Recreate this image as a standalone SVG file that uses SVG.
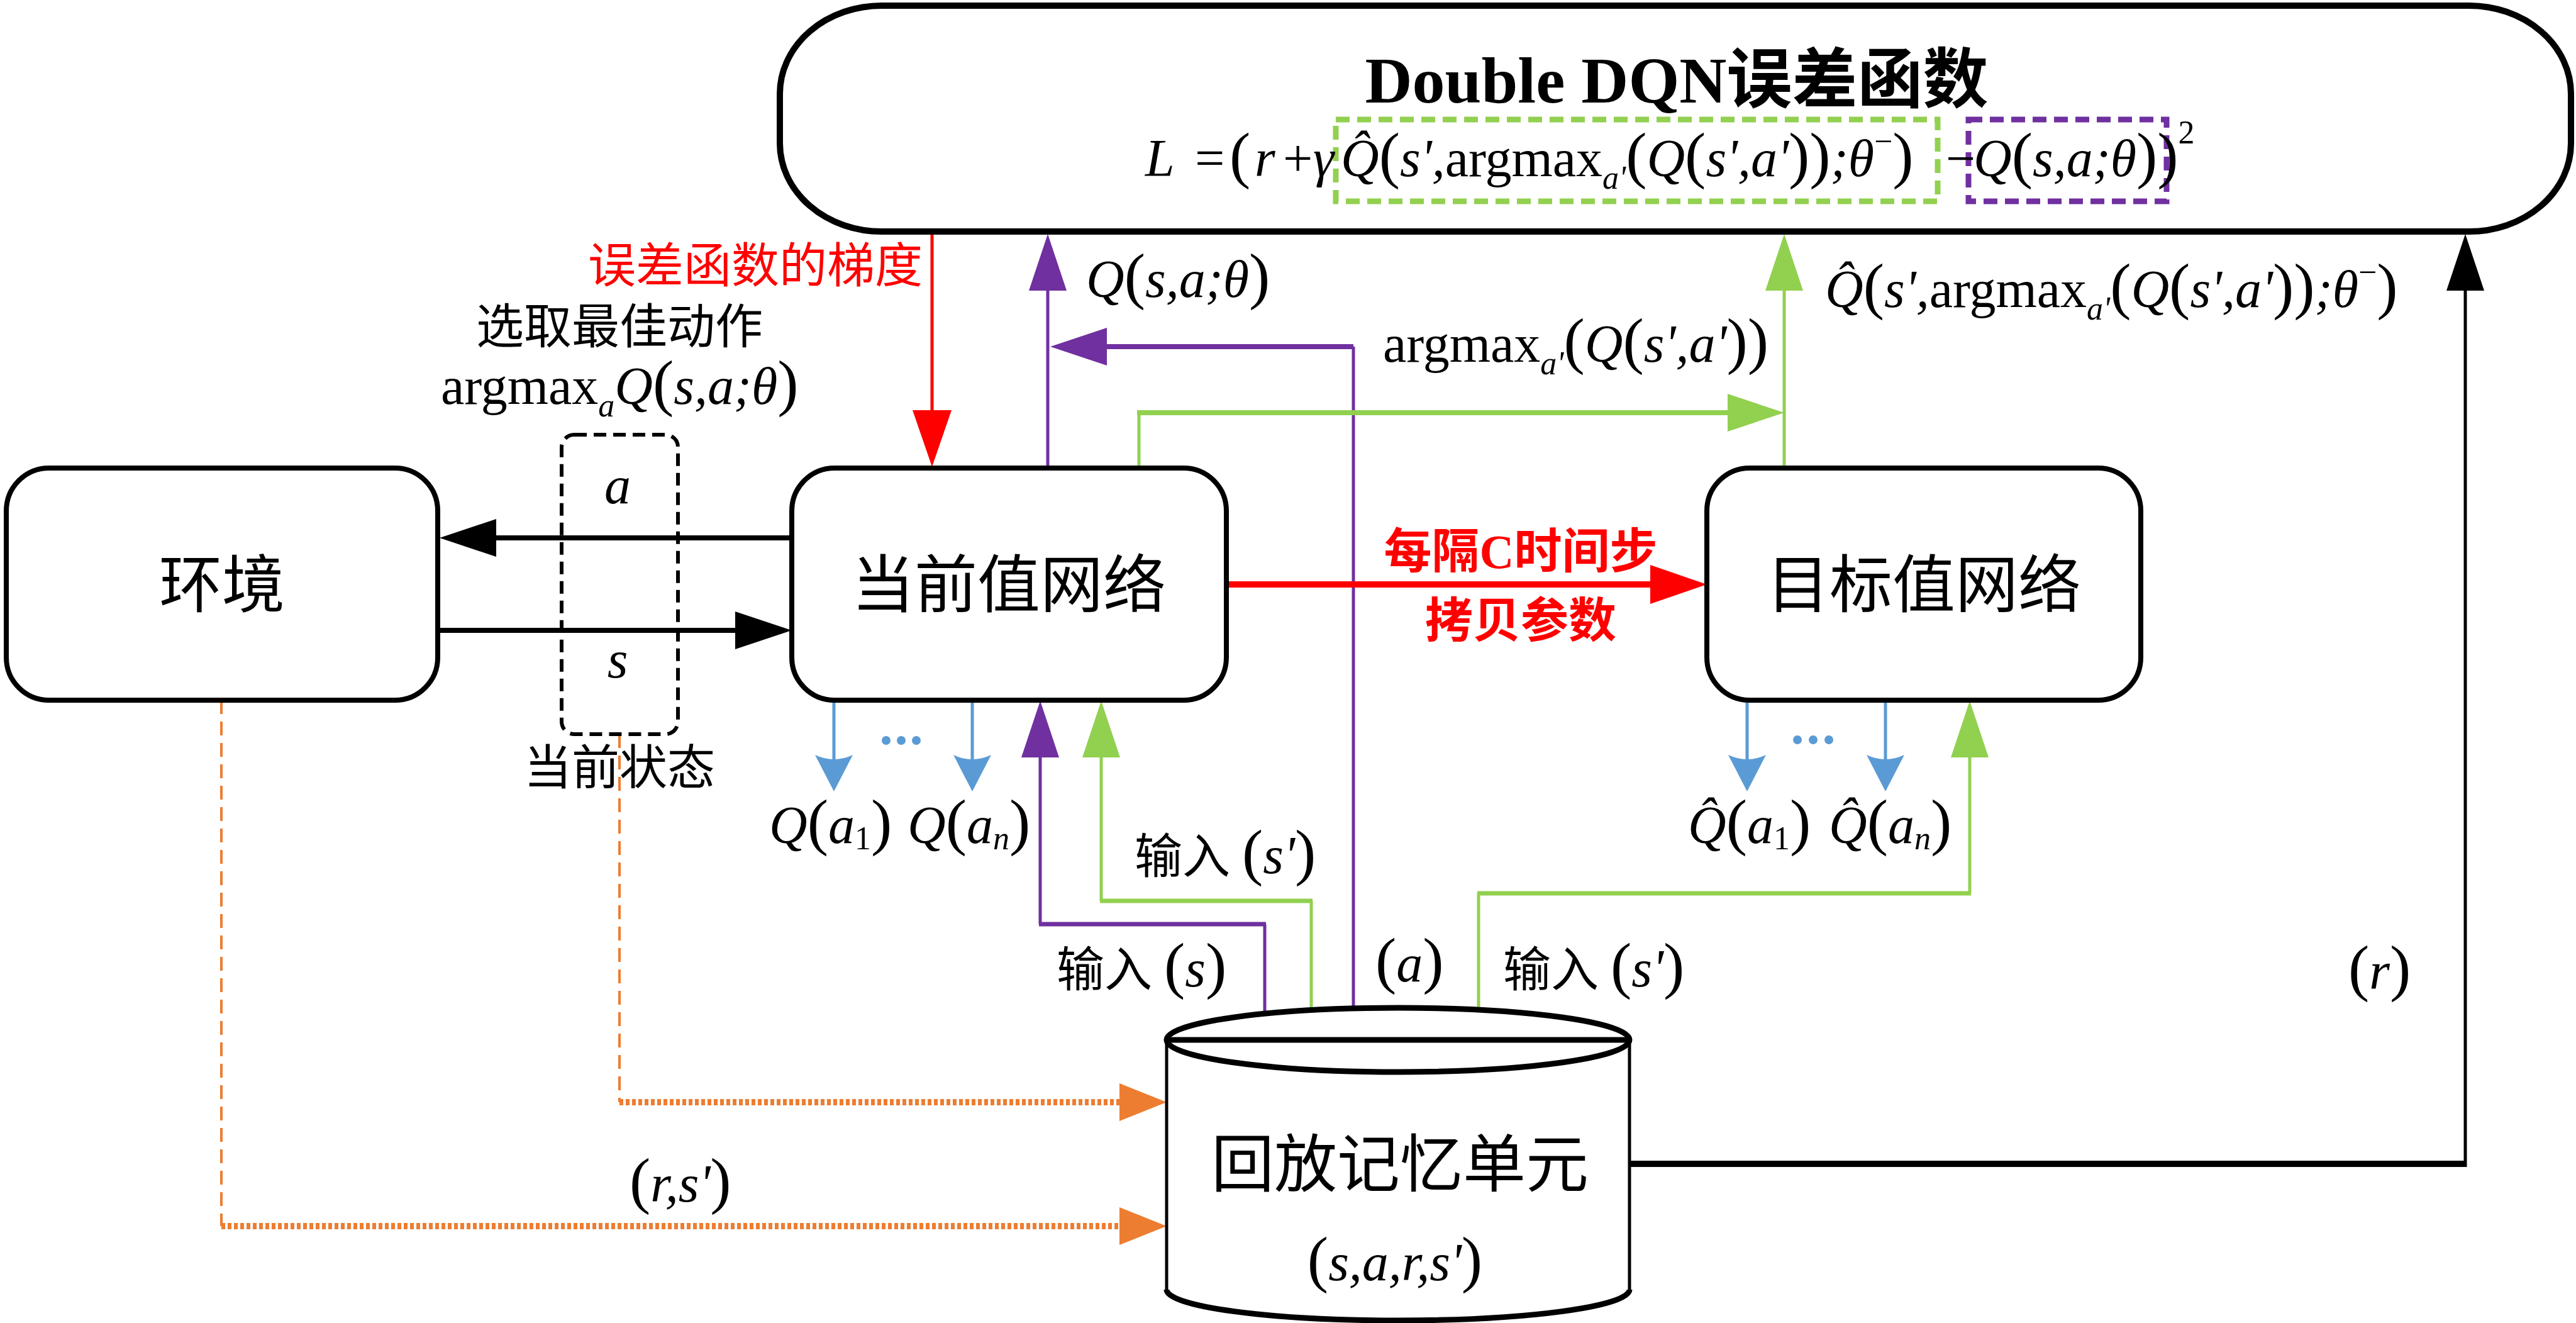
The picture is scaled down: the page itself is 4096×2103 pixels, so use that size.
<svg xmlns="http://www.w3.org/2000/svg" width="4096" height="2103" viewBox="0 0 4096 2103">
<style>
.node{fill:#fff;stroke:#000;stroke-width:8}
.cn{font-family:"Liberation Serif","Noto Sans CJK SC",sans-serif;fill:#000}
.big{font-size:100px}
.lab{font-size:76px}
.m{font-family:"Liberation Serif","Times New Roman",serif;font-style:italic;font-size:84px;fill:#000}
.u{font-style:normal}
.p{font-style:normal;font-size:100px}
.sub{font-size:52px}
.sup{font-size:52px;font-style:normal}
.red{fill:#FF0000}
.thin{fill:none;stroke-width:5}
.thick{fill:none;stroke-width:8}
.k{stroke:#000}
.r{stroke:#FF0000}
.pu{stroke:#7030A0}
.g{stroke:#92D050}
.b{stroke:#5B9BD5}
.o{stroke:#ED7D31}
</style>
<defs>
<marker id="aK" markerUnits="userSpaceOnUse" markerWidth="90" markerHeight="60" refX="0" refY="30" orient="auto" overflow="visible"><path d="M0,0 L90,30 L0,60 Z" fill="#000"/></marker>
<marker id="aR" markerUnits="userSpaceOnUse" markerWidth="90" markerHeight="62" refX="0" refY="31" orient="auto" overflow="visible"><path d="M0,0 L90,31 L0,62 Z" fill="#FF0000"/></marker>
<marker id="aP" markerUnits="userSpaceOnUse" markerWidth="90" markerHeight="60" refX="0" refY="30" orient="auto" overflow="visible"><path d="M0,0 L90,30 L0,60 Z" fill="#7030A0"/></marker>
<marker id="aG" markerUnits="userSpaceOnUse" markerWidth="90" markerHeight="60" refX="0" refY="30" orient="auto" overflow="visible"><path d="M0,0 L90,30 L0,60 Z" fill="#92D050"/></marker>
<marker id="aB" markerUnits="userSpaceOnUse" markerWidth="58" markerHeight="60" refX="8" refY="30" orient="auto" overflow="visible"><path d="M0,0 L58,30 L0,60 Q14,30 0,0 Z" fill="#5B9BD5"/></marker>
<marker id="aO" markerUnits="userSpaceOnUse" markerWidth="75" markerHeight="60" refX="0" refY="30" orient="auto" overflow="visible"><path d="M0,0 L75,30 L0,60 Z" fill="#ED7D31"/></marker>
</defs>
<rect width="4096" height="2103" fill="#fff"/>

<g id="connectors">
  <path class="thin r" d="M1482,372 V652" stroke-width="6" marker-end="url(#aR)"/>
  <path class="thin pu" d="M1666,744 V462" marker-end="url(#aP)"/>
  <path class="thin pu" d="M2152,1603 V551"/>
  <path class="thick pu" d="M2152,551 H1760" marker-end="url(#aP)"/>
  <path class="thin g" d="M1811,744 V656"/>
  <path class="thick g" d="M1808,656 H2747" marker-end="url(#aG)"/>
  <path class="thin g" d="M2837,744 V462" marker-end="url(#aG)"/>
  <path class="k" d="M2591,1850 H3922" fill="none" stroke-width="10"/>
  <path class="thin k" d="M3920,1855 V462" marker-end="url(#aK)"/>
  <path class="thick k" d="M1259,855 H789" marker-end="url(#aK)"/>
  <path class="thick k" d="M696,1002 H1169" marker-end="url(#aK)"/>
  <path class="r" d="M1950,929 H2624" fill="none" stroke-width="10" marker-end="url(#aR)"/>
  <path class="thin b" d="M1326,1113 V1208" marker-end="url(#aB)"/>
  <path class="thin b" d="M1546,1113 V1208" marker-end="url(#aB)"/>
  <path class="thin b" d="M2778,1113 V1208" marker-end="url(#aB)"/>
  <path class="thin b" d="M2998,1113 V1208" marker-end="url(#aB)"/>
  <g fill="#5B9BD5">
    <circle cx="1409" cy="1177" r="7"/><circle cx="1433" cy="1177" r="7"/><circle cx="1457" cy="1177" r="7"/>
    <circle cx="2858" cy="1176" r="7"/><circle cx="2883" cy="1176" r="7"/><circle cx="2908" cy="1176" r="7"/>
  </g>
  <path class="thin pu" d="M2011,1611 V1469"/>
  <path class="pu" d="M2013,1469 H1652" fill="none" stroke-width="7"/>
  <path class="thin pu" d="M1654,1469 V1204" marker-end="url(#aP)"/>
  <path class="thin g" d="M2085,1606 V1432"/>
  <path class="g" d="M2087,1432 H1749" fill="none" stroke-width="7"/>
  <path class="thin g" d="M1751,1432 V1204" marker-end="url(#aG)"/>
  <path class="thin g" d="M2351,1605 V1420"/>
  <path class="g" d="M2349,1420 H3134" fill="none" stroke-width="7"/>
  <path class="thin g" d="M3132,1420 V1204" marker-end="url(#aG)"/>
  <path class="o" d="M352,1113 V1949" fill="none" stroke-width="4" stroke-dasharray="22 12"/>
  <path class="o" d="M352,1949 H1780" fill="none" stroke-width="10" stroke-dasharray="6 4" marker-end="url(#aO)"/>
  <path class="o" d="M985,1167 V1752" fill="none" stroke-width="4" stroke-dasharray="22 12"/>
  <path class="o" d="M985,1752 H1780" fill="none" stroke-width="10" stroke-dasharray="6 4" marker-end="url(#aO)"/>
</g>

<g id="loss">
  <path d="M1402,9 H3926 A162,140 0 0 1 4088,149 V228 A162,140 0 0 1 3926,368 H1402 A162,140 0 0 1 1240,228 V149 A162,140 0 0 1 1402,9 Z" fill="none" stroke="#000" stroke-width="10"/>
  <text class="cn" x="2666" y="163" text-anchor="middle" font-size="104" font-weight="bold">Double DQN误差函数</text>
  <rect x="2124" y="190" width="957" height="130" fill="none" stroke="#92D050" stroke-width="9" stroke-dasharray="22 12"/>
  <rect x="3130" y="190" width="315" height="130" fill="none" stroke="#7030A0" stroke-width="9" stroke-dasharray="22 12"/>
  <text class="m" y="280"><tspan x="1821">L</tspan><tspan x="1900" class="u">=</tspan><tspan x="1955" class="p">(</tspan><tspan x="1995">r</tspan><tspan x="2040" class="u">+</tspan><tspan x="2088">γ</tspan><tspan x="2132">Q&#x302;</tspan><tspan class="p">(</tspan><tspan>s',</tspan><tspan class="u">argmax</tspan><tspan class="sub" dy="20">a'</tspan><tspan class="p" dy="-20">(</tspan><tspan>Q</tspan><tspan class="p">(</tspan><tspan>s',a'</tspan><tspan class="p">))</tspan><tspan>;θ</tspan><tspan class="sup" dy="-38">−</tspan><tspan class="p" dy="38">)</tspan><tspan x="3094" class="u">−</tspan><tspan x="3138">Q</tspan><tspan class="p">(</tspan><tspan>s,a;θ</tspan><tspan class="p">))</tspan><tspan class="sup" dy="-52">2</tspan></text>
</g>

<g id="env">
  <rect class="node" x="10" y="744" width="686" height="369" rx="68" ry="68"/>
  <text class="cn big" x="353" y="965" text-anchor="middle">环境</text>
</g>
<g id="current">
  <rect class="node" x="1259" y="744" width="691" height="369" rx="68" ry="68"/>
  <text class="cn big" x="1604" y="965" text-anchor="middle">当前值网络</text>
</g>
<g id="target">
  <rect class="node" x="2714" y="744" width="690" height="369" rx="68" ry="68"/>
  <text class="cn big" x="3059" y="965" text-anchor="middle">目标值网络</text>
</g>
<g id="memory">
  <path d="M1855,1653 V2050 A368,49 0 0 0 2591,2050 V1653" fill="#fff" stroke="#000" stroke-width="5"/>
  <path d="M1855,2050 A368,49 0 0 0 2591,2050" fill="none" stroke="#000" stroke-width="9"/>
  <ellipse cx="2223" cy="1653" rx="368" ry="51" fill="#fff" stroke="#000" stroke-width="9"/>
  <line x1="1855" y1="1653" x2="2591" y2="1653" stroke="#000" stroke-width="9"/>
  <text class="cn big" x="2226" y="1886" text-anchor="middle">回放记忆单元</text>
  <text class="m" x="2218" y="2035" text-anchor="middle"><tspan class="p">(</tspan>s,a,r,s'<tspan class="p">)</tspan></text>
</g>
<g id="state-box">
  <rect x="893" y="691" width="185" height="476" rx="20" ry="20" fill="none" stroke="#000" stroke-width="6" stroke-dasharray="20 11"/>
  <text class="m" x="982" y="800" text-anchor="middle">a</text>
  <text class="m" x="982" y="1077" text-anchor="middle">s</text>
</g>

<g id="labels">
  <text class="cn lab red" x="1467" y="449" text-anchor="end">误差函数的梯度</text>
  <text class="m" x="1727" y="472">Q<tspan class="p">(</tspan>s,a;θ<tspan class="p">)</tspan></text>
  <text class="m" x="2199" y="575"><tspan class="u">argmax</tspan><tspan class="sub" dy="20">a'</tspan><tspan class="p" dy="-20">(</tspan>Q<tspan class="p">(</tspan>s',a'<tspan class="p">))</tspan></text>
  <text class="m" x="2902" y="488">Q&#x302;<tspan class="p">(</tspan>s',<tspan class="u">argmax</tspan><tspan class="sub" dy="20">a'</tspan><tspan class="p" dy="-20">(</tspan>Q<tspan class="p">(</tspan>s',a'<tspan class="p">))</tspan>;θ<tspan class="sup" dy="-38">−</tspan><tspan class="p" dy="38">)</tspan></text>
  <text class="cn lab" x="985" y="546" text-anchor="middle">选取最佳动作</text>
  <text class="m" x="701" y="642"><tspan class="u">argmax</tspan><tspan class="sub" dy="20">a</tspan><tspan dy="-20">Q</tspan><tspan class="p">(</tspan>s,a;θ<tspan class="p">)</tspan></text>
  <text class="cn lab" x="985" y="1247" text-anchor="middle">当前状态</text>
  <text class="cn lab red" x="2418" y="903" text-anchor="middle" font-weight="bold">每隔C时间步</text>
  <text class="cn lab red" x="2418" y="1013" text-anchor="middle" font-weight="bold">拷贝参数</text>
  <text class="m" x="1223" y="1340">Q<tspan class="p">(</tspan>a<tspan class="sub u" dy="10">1</tspan><tspan class="p" dy="-10">)</tspan></text>
  <text class="m" x="1443" y="1340">Q<tspan class="p">(</tspan>a<tspan class="sub" dy="10">n</tspan><tspan class="p" dy="-10">)</tspan></text>
  <text class="m" x="2684" y="1340">Q&#x302;<tspan class="p">(</tspan>a<tspan class="sub u" dy="10">1</tspan><tspan class="p" dy="-10">)</tspan></text>
  <text class="m" x="2908" y="1340">Q&#x302;<tspan class="p">(</tspan>a<tspan class="sub" dy="10">n</tspan><tspan class="p" dy="-10">)</tspan></text>
  <text x="1804" y="1388"><tspan class="cn lab">输入 </tspan><tspan class="m"><tspan class="p">(</tspan>s'<tspan class="p">)</tspan></tspan></text>
  <text x="1680" y="1568"><tspan class="cn lab">输入 </tspan><tspan class="m"><tspan class="p">(</tspan>s<tspan class="p">)</tspan></tspan></text>
  <text x="2390" y="1568"><tspan class="cn lab">输入 </tspan><tspan class="m"><tspan class="p">(</tspan>s'<tspan class="p">)</tspan></tspan></text>
  <text class="m" x="2187" y="1560"><tspan class="p">(</tspan>a<tspan class="p">)</tspan></text>
  <text class="m" x="3734" y="1572"><tspan class="p">(</tspan>r<tspan class="p">)</tspan></text>
  <text class="m" x="1001" y="1910"><tspan class="p">(</tspan>r,s'<tspan class="p">)</tspan></text>
</g>
</svg>
